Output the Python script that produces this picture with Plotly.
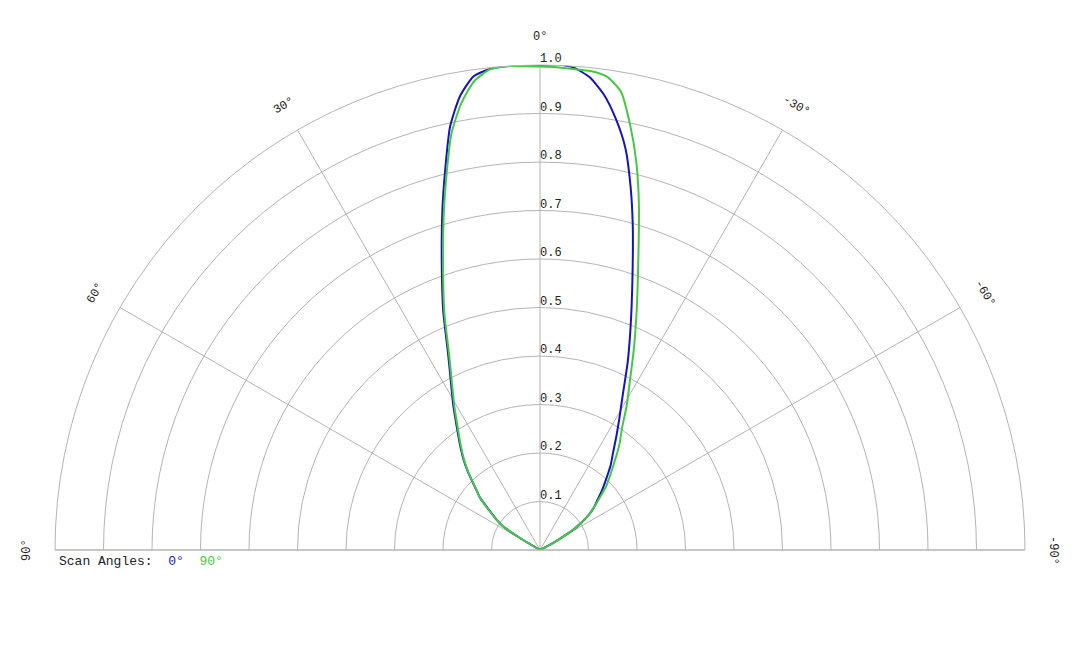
import math
import plotly.graph_objects as go

# scan angle (deg, + to the left) and normalised pattern magnitude
theta = [90, 80, 70, 61, 59, 57, 55, 52, 49, 46, 43, 40, 37, 34, 31, 28, 25, 22, 19, 16,
         14, 12, 10, 8, 6, 4, 2, 0, -2, -4, -6, -8, -10, -12, -14, -16, -19, -22, -25,
         -28, -31, -34, -37, -40, -43, -46, -49, -52, -55, -58, -60, -62, -64, -70, -80, -90]

r_scan_0 = [0.0, 0.0, 0.0, 0.0, 0.05, 0.094, 0.11, 0.132, 0.163, 0.186, 0.216, 0.246, 0.275,
            0.307, 0.347, 0.391, 0.449, 0.533, 0.622, 0.73, 0.808, 0.892, 0.95, 0.986, 0.997,
            1.0, 0.999, 0.998, 1.002, 0.997, 0.98, 0.948, 0.902, 0.847, 0.772, 0.694, 0.585,
            0.499, 0.428, 0.364, 0.318, 0.281, 0.25, 0.226, 0.2, 0.178, 0.157, 0.14, 0.118,
            0.088, 0.058, 0.03, 0.0, 0.0, 0.0, 0.0]

r_scan_90 = [0.0, 0.0, 0.0, 0.0, 0.05, 0.094, 0.11, 0.134, 0.163, 0.185, 0.215, 0.244, 0.272,
             0.303, 0.342, 0.386, 0.443, 0.526, 0.614, 0.72, 0.797, 0.878, 0.935, 0.976, 0.996,
             1.0, 0.998, 0.997, 0.996, 0.994, 0.993, 0.986, 0.96, 0.895, 0.822, 0.74, 0.622,
             0.532, 0.458, 0.395, 0.347, 0.302, 0.272, 0.24, 0.213, 0.19, 0.162, 0.14, 0.118,
             0.088, 0.058, 0.03, 0.0, 0.0, 0.0, 0.0]

radial_ticks = [0.1, 0.2, 0.3, 0.4, 0.5, 0.6, 0.7, 0.8, 0.9, 1.0]
angle_ticks = [0, 30, 60, 90, -30, -60, -90]

BLUE = "#1414bb"
GREEN = "#46c846"
GRID = "#b4b4b4"
FONT = "Courier New, Liberation Mono, monospace"

W, H = 1080, 648
PAGE = 8  # browser body margin pushes the figure right/down
cx, cy, R = 540 - PAGE, 550 - PAGE, 485  # centre and radius of the half disc, px

fig = go.Figure()

for r, color in [(r_scan_0, BLUE), (r_scan_90, GREEN)]:
    fig.add_trace(go.Scatterpolar(
        theta=theta, r=r, mode="lines",
        line=dict(color=color, width=2, shape="spline", smoothing=0.6),
        showlegend=False, hoverinfo="skip",
    ))

# radial tick labels along the 0 deg spoke
fig.add_trace(go.Scatterpolar(
    theta=[0] * len(radial_ticks), r=radial_ticks, mode="text",
    text=[f"{v:.1f}" for v in radial_ticks], textposition="top right",
    textfont=dict(family=FONT, size=12, color="#222222"),
    showlegend=False, hoverinfo="skip",
))

# angle labels, rotated along the rim
annotations = []
for a in angle_ticks:
    rad = math.radians(a)
    px = cx - 513 * math.sin(rad)
    py = cy - 513 * math.cos(rad)
    annotations.append(dict(
        x=px / W, y=1 - py / H, xref="paper", yref="paper",
        text=f"{a}°", showarrow=False, textangle=-a,
        xanchor="center", yanchor="middle",
        font=dict(family=FONT, size=12, color="#222222"),
    ))

annotations.append(dict(
    x=(57 - PAGE) / W, y=1 - (561 - PAGE) / H, xref="paper", yref="paper",
    text=(f"Scan Angles:&nbsp;&nbsp;<span style='color:{BLUE}'>0°</span>"
          f"&nbsp;&nbsp;<span style='color:{GREEN}'>90°</span>"),
    showarrow=False, xanchor="left", yanchor="middle",
    font=dict(family=FONT, size=13, color="#222222"),
))

fig.update_layout(
    width=W, height=H,
    margin=dict(l=0, r=0, t=0, b=0),
    paper_bgcolor="white",
    polar=dict(
        sector=[0, 180],
        domain=dict(x=[(cx - R) / W, (cx + R) / W], y=[(H - cy) / H, (H - cy + R) / H]),
        bgcolor="white",
        radialaxis=dict(
            range=[0, 1], dtick=0.1, showticklabels=False, ticks="",
            showline=False, gridcolor=GRID, gridwidth=1,
        ),
        angularaxis=dict(
            rotation=90, direction="counterclockwise", dtick=30,
            showticklabels=False, ticks="", gridcolor=GRID, gridwidth=1,
            showline=True, linecolor=GRID, linewidth=1,
        ),
    ),
    annotations=annotations,
)

fig.write_html("out.html")
